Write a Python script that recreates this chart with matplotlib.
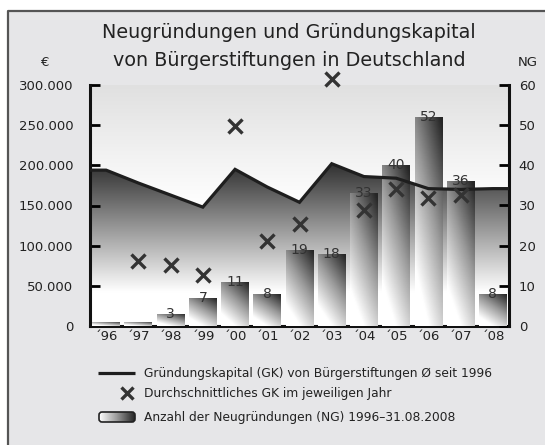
import numpy as np
import matplotlib
matplotlib.use("Agg")
import matplotlib.pyplot as plt
from matplotlib.colors import LinearSegmentedColormap
from matplotlib.patches import Polygon, Rectangle, FancyBboxPatch

plt.rcParams['font.family'] = ['DejaVu Sans']

# data
years = ["´96", "´97", "´98", "´99", "´00", "´01", "´02", "´03", "´04", "´05", "´06", "´07", "´08"]
ng_count = [1, 1, 3, 7, 11, 8, 19, 18, 33, 40, 52, 36, 8]
gk_avg_since_1996 = [194000, 178000, 163000, 148000, 195000, 173000, 154000,
                     202000, 186000, 184000, 171000, 170000, 171000]
gk_avg_year = [np.nan, 81000, 76000, 63000, 249000, 106000, 127000,
               307000, 144000, 171000, 159000, 163000, np.nan]
gk_ticks = [0, 50000, 100000, 150000, 200000, 250000, 300000]
gk_ticklabels = ["0", "50.000", "100.000", "150.000", "200.000", "250.000", "300.000"]
ng_ticks = [0, 10, 20, 30, 40, 50, 60]

W, H = 545, 445
ink = "#222222"

fig = plt.figure(figsize=(W / 100, H / 100), dpi=100)
fig.patch.set_facecolor("white")

# frame + legend layer in pixel coordinates
bg = fig.add_axes([0, 0, 1, 1], zorder=-5)
bg.set_xlim(0, W)
bg.set_ylim(H, 0)
bg.axis("off")
bg.add_patch(Rectangle((8, 11), W, H, facecolor="#e6e6e8", edgecolor="none"))
bg.plot([8, 8, W], [H, 11, 11], color="#555555", lw=1.6, solid_capstyle="butt")

# main axes
rect = [90 / W, 1 - 326 / H, (509 - 90) / W, (326 - 85) / H]
ax = fig.add_axes(rect)
x = np.arange(len(years))
xlo, xhi = -0.5, len(years) - 0.5
ax.set_xlim(xlo, xhi)
ax.set_ylim(0, 300000)

# plot background: light grey at top fading to white
top_cmap = LinearSegmentedColormap.from_list("top", ["#ffffff", "#ffffff", "#e0e0e0"])
grad = np.linspace(0, 1, 256).reshape(-1, 1)
ax.imshow(grad, extent=(xlo, xhi, 0, 300000), origin="lower", aspect="auto",
          cmap=top_cmap, zorder=0)

# dark gradient under the average line
under_cmap = LinearSegmentedColormap.from_list(
    "under", [(0, "#ffffff"), (0.14, "#ffffff"), (0.68, "#2e2e2e"), (1, "#2a2a2a")])
im = ax.imshow(grad, extent=(xlo, xhi, 0, 300000), origin="lower", aspect="auto",
               cmap=under_cmap, zorder=1)
line_x = np.concatenate([[xlo], x, [xhi]])
line_y = np.concatenate([[gk_avg_since_1996[0]], gk_avg_since_1996, [gk_avg_since_1996[-1]]])
verts = [(xlo, 0)] + list(zip(line_x, line_y)) + [(xhi, 0)]
poly = Polygon(verts, closed=True, facecolor="none", edgecolor="none")
ax.add_patch(poly)
im.set_clip_path(poly)

ax.set_xticks(x)
ax.set_xticklabels(years, fontsize=9.5, color=ink)
ax.tick_params(axis="x", length=0, pad=3)
ax.set_yticks(gk_ticks)
ax.set_yticklabels(gk_ticklabels, fontsize=9.5, color=ink)
ax.tick_params(axis="y", direction="in", length=7, width=2, pad=12)
for s in ["left", "bottom"]:
    ax.spines[s].set_linewidth(2.2)
    ax.spines[s].set_color("#111111")
ax.spines["top"].set_visible(False)
ax.spines["right"].set_visible(False)

# bars on the NG scale
ax2 = ax.twinx()
ax2.set_ylim(0, 60)
ax2.set_yticks(ng_ticks)
ax2.set_yticklabels([str(t) for t in ng_ticks], fontsize=9.5, color=ink)
ax2.tick_params(axis="y", direction="in", length=7, width=2, pad=7)
ax2.spines["right"].set_linewidth(2.2)
ax2.spines["right"].set_color("#111111")
for s in ["left", "bottom", "top"]:
    ax2.spines[s].set_visible(False)
ax2.patch.set_visible(False)

bar_cmap = LinearSegmentedColormap.from_list("bar", ["#ffffff", "#9a9a9a", "#262626"])
u = np.linspace(0, 1, 40)
v = np.linspace(0, 1, 80)
U, V = np.meshgrid(u, v)
bar_grad = np.clip(0.8 * V + 0.45 * U - 0.22, 0, 1)
bw = 0.86
for xi, h in zip(x, ng_count):
    bim = ax2.imshow(bar_grad, extent=(xi - bw / 2, xi + bw / 2, 0, h), origin="lower",
                     aspect="auto", cmap=bar_cmap, vmin=0, vmax=1, zorder=2)
    clip = Rectangle((xi - bw / 2, 0), bw, h, facecolor="none", edgecolor="none")
    ax2.add_patch(clip)
    bim.set_clip_path(clip)
    if h >= 3:
        ax2.text(xi, h, str(h), ha="center", va="center", fontsize=10, color="#333333", zorder=3)
ax2.set_xlim(xlo, xhi)

# line and crosses on top, GK scale
ax3 = fig.add_axes(rect, sharex=ax)
ax3.set_ylim(0, 300000)
ax3.axis("off")
ax3.plot(line_x, line_y, color="#1e1e1e", lw=2.3, solid_joinstyle="miter", zorder=4)
ax3.plot(x, gk_avg_year, linestyle="none", marker="x", markersize=10, mew=2.4,
         color="#333333", clip_on=False, zorder=5)
ax3.set_xlim(xlo, xhi)

# titles and axis captions
fig.text(289 / W, 1 - 33 / H, "Neugründungen und Gründungskapital", ha="center", va="center",
         fontsize=13.8, color=ink)
fig.text(289 / W, 1 - 60 / H, "von Bürgerstiftungen in Deutschland", ha="center", va="center",
         fontsize=13.8, color=ink)
fig.text(45 / W, 1 - 63 / H, "€", ha="center", va="center", fontsize=9.5, color=ink)
fig.text(528 / W, 1 - 63 / H, "NG", ha="center", va="center", fontsize=9.5, color=ink)

# legend
bg.plot([98, 135], [373, 373], color="#1e1e1e", lw=2.3, solid_capstyle="butt")
bg.plot([127], [393], marker="x", markersize=9, mew=2.4, color="#333333")
icon = FancyBboxPatch((99, 412), 36, 10, boxstyle="round,pad=0,rounding_size=3",
                      facecolor="none", edgecolor="#222222", lw=1.2, zorder=3)
bg.add_patch(icon)
icon_im = bg.imshow(np.linspace(0, 1, 64).reshape(1, -1), extent=(99, 135, 422, 412),
                    aspect="auto", cmap=bar_cmap, vmin=0, vmax=1, zorder=2)
icon_im.set_clip_path(icon)
legend_labels = ["Gründungskapital (GK) von Bürgerstiftungen Ø seit 1996",
                 "Durchschnittliches GK im jeweiligen Jahr",
                 "Anzahl der Neugründungen (NG) 1996–31.08.2008"]
for yy, lab in zip([373, 393, 417], legend_labels):
    bg.text(144, yy, lab, ha="left", va="center", fontsize=8.8, color=ink)

fig.savefig("out.png", dpi=100)
